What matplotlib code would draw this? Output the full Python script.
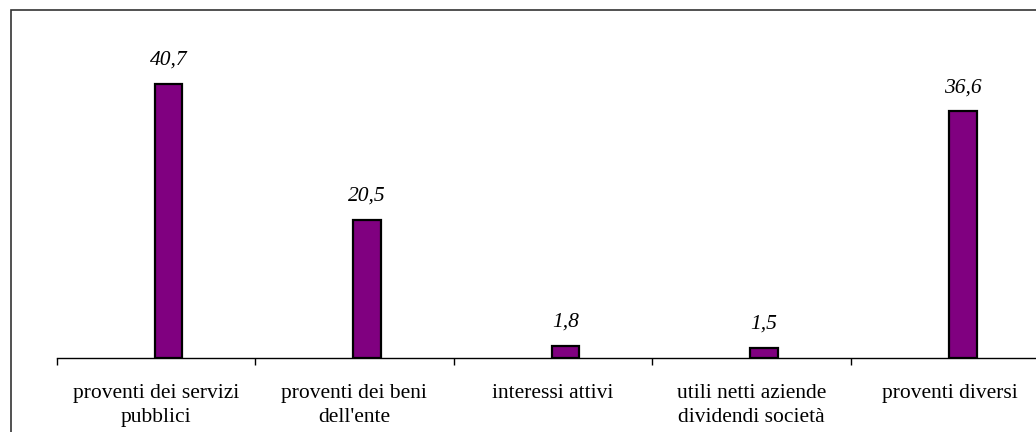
import numpy as np
import matplotlib.pyplot as plt
from matplotlib.patches import Rectangle

categories = ["proventi dei servizi\npubblici", "proventi dei beni\ndell'ente",
              "interessi attivi", "utili netti aziende\ndividendi società",
              "proventi diversi"]
values = [40.7, 20.5, 1.8, 1.5, 36.6]
value_labels = ["40,7", "20,5", "1,8", "1,5", "36,6"]

plt.rcParams['font.family'] = ['Liberation Serif', 'DejaVu Serif']

W, H = 1036, 432
fig = plt.figure(figsize=(W / 100, H / 100), dpi=100)

# axes runs past the right edge like in the cropped original
x0, y0 = 56.5, 358
cat_w = 198.6
ymax = 45
px_per_unit = 6.74
ax = fig.add_axes([x0 / W, 1 - y0 / H, 5 * cat_w / W, ymax * px_per_unit / H])

n = len(values)
pos = np.arange(n) + 0.5 + 0.063
bars = ax.bar(pos, values, width=0.139, color='#800080', edgecolor='black', linewidth=1.6)
for b, lab in zip(bars, value_labels):
    ax.annotate(lab, (b.get_x() + b.get_width() / 2, b.get_height()),
                xytext=(0, 10), textcoords='offset points', ha='center', va='bottom',
                fontsize=15.5, style='italic')

ax.set_xlim(0, n)
ax.set_ylim(0, ymax)
ax.set_xticks(np.arange(n + 1))
ax.set_xticklabels([])
ax.tick_params(axis='x', which='major', direction='out', length=5, width=1, color='black')
ax.set_xticks(np.arange(n) + 0.5, minor=True)
ax.set_xticklabels(categories, minor=True, fontsize=15.5, linespacing=1.4)
ax.tick_params(axis='x', which='minor', length=0, pad=18.5)
ax.set_yticks([])
for s in ['left', 'right', 'top']:
    ax.spines[s].set_visible(False)
ax.spines['bottom'].set_linewidth(1)

# outer chart border (cropped on right and bottom)
fig.patches.append(Rectangle((10.5 / W, -0.1), 1.2, 1.1 - 10 / H, transform=fig.transFigure,
                             fill=False, edgecolor='#333333', linewidth=1.2))

fig.savefig('out.png', dpi=100)
